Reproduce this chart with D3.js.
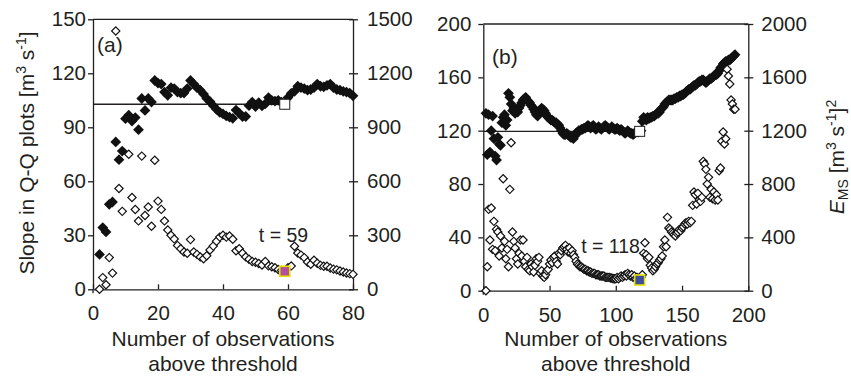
<!DOCTYPE html>
<html>
<head>
<meta charset="utf-8">
<script src="https://cdn.jsdelivr.net/npm/d3@7"></script>
<style>
  body { margin: 0; background: #fff; }
  svg text { font-family: "Liberation Sans", Arial, sans-serif; fill: #231f20; }
</style>
</head>
<body>
<svg id="chart" width="851" height="380"></svg>
<script>
// panel (a): observations start at 2
const aFirst = 2
const aSlope = [19.4, 34.3, 31.9, 47.2, 48.5, 81.9, 72, 76.8, 94.8, 96.7,
  93.5, 95.4, 88.7, 106, 99.4, 106, 104, 116, 114.6, 114,
  109.6, 107.8, 112, 111.5, 109.6, 109, 109, 111.5, 116, 114,
  112, 110.6, 108.5, 106, 104.3, 102, 100, 98.3, 97.4, 96.3,
  95.6, 95, 99.6, 97.8, 96, 96, 102, 104, 101.5, 103.7,
  101.9, 103, 106.5, 105, 104.6, 105, 104, 102.8, 106.5, 108.9,
  110, 112.8, 112, 111.5, 110.6, 111, 112, 114, 112.8, 112.5,
  113.3, 114, 112, 111, 110.6, 110, 109.6, 109, 107.5]
const aEms = [0, 65, 25, 176, 90, 1435, 560, 433, null, 750,
  510, 443, 380, 740, 410, 457, 350, 717, 490, 444,
  380, 330, 300, 280, 244, 225, 207, 200, 276, 207,
  194, 180, 170, 186, 218, 240, 267, 290, 300, 290,
  296, 278, 214, 225, 200, 180, 167, 154, 150, 143,
  135, 154, 130, 125, 120, 110, 105, 100, 120, 130,
  239, 202, 190, 176, 152, 139, 161, 145, 133, 128,
  128, 118, 112, 108, 102, 96, 91, 87, 83]

// panel (b): observations start at 2
const bFirst = 2
const bSlope = [133, 102, 132, 104, 120, 131, 114, 101, 98, 115,
  110, 109, 126, 130, 132, 124, 128, 148, 145, 140,
  135, 137, 133, 135, 134, 137, 139, 141, 143, 144,
  145, 143, 142, 141, 139, 138, 136, 134, 132, 131,
  133, 135, 137, 136, 135, 133, 131, 130, 129, 128,
  128, 127, 126, 126, 125, 124, 122, 120, 118, 117,
  117, 118, 117, 116, 115, 115, 114, 116, 118, 119,
  120, 120, 121, 121, 122, 122, 123, 124, 123, 122,
  123, 124, 122, 121, 122, 123, 122, 121, 122, 123,
  124, 123, 122, 121, 122, 123, 122, 121, 121, 122,
  121, 120, 121, 120, 119, 118, 119, 120, 119, 118,
  118, 117, 118, 119, 119, 119, 119.5, 120, 127, 130,
  129, 128, 130, 129, 130, 130, 131, 131, 132, 133,
  133, 134, 136, 137, 138, 140, 141, 142, 143, 143,
  143, 143, 144, 144, 145, 145, 146, 146, 147, 147,
  148, 149, 150, 151, 151, 152, 153, 154, 154, 155,
  156, 157, 157, 158, 158, 157, 156, 157, 158, 159,
  159, 160, 161, 162, 162, 163, 165, 167, 168, 170,
  171, 172, 172, 173, 173, 174, 175, 176, 177]
const bEms = [0, 180, 610, 380, 620, 310, 520, 300, 460, 440,
  260, 410, 320, 840, 370, 240, 310, 180, 760, 1110,
  440, 370, 320, 240, 200, 280, 380, 260, 380, 220,
  180, 250, 160, 150, 200, 180, 140, 190, 240, 220,
  250, 130, 150, 110, 100, 120, 150, 160, 200, 230,
  210, 250, 260, 220, 200, 280, 270, 300, 320, 330,
  340, 310, 290, 320, 280, 300, 270, 250, 220, 200,
  190, 180, 180, 170, 160, 160, 150, 150, 140, 140,
  130, 130, 130, 120, 120, 120, 110, 110, 110, 110,
  100, 100, 100, 100, 95, 95, 90, 90, 90, 100,
  90, 100, 110, 100, 110, 120, 110, 130, 120, 110,
  120, 100, 110, 90, 100, 90, 80, 100, 120, 280,
  360, 270, 240, 250, 190, 170, 150, 160, 180, 200,
  210, 230, 240, 260, 330, 380, 330, 550, 470, 460,
  440, 430, 420, 410, 430, 440, 460, 450, 470, 480,
  500, 510, 500, 520, 510, 520, 640, 740, 720, 650,
  730, 680, 670, 700, 970, 950, 910, 800, 850, 700,
  760, 690, 740, 680, 720, 680, 900, 920, 1120, 1190,
  1100, 1140, 1660, 1610, 1550, 1430, 1400, 1360, 1360]

// chosen threshold per panel
const optT = [59, 118]
const optSlope = [102.8, 119.5]
const optEms = [100, 80]
const optFill = ['#b24f9e', '#3c4f9f']

const xTicksA = [0, 20, 40, 60, 80]
const yTicksA = [0, 30, 60, 90, 120, 150]
const y2TicksA = [0, 300, 600, 900, 1200, 1500]
const xTicksB = [0, 50, 100, 150, 200]
const yTicksB = [0, 40, 80, 120, 160, 200]
const y2TicksB = [0, 400, 800, 1200, 1600, 2000]

const ink = '#231f20'
const svg = d3.select('#chart')
const fmt = d3.format('d')

function drawPanel(p) {
  const x = d3.scaleLinear().domain([0, p.xTicks[p.xTicks.length - 1]]).range([p.left, p.right])
  const y = d3.scaleLinear().domain([0, p.yTicks[p.yTicks.length - 1]]).range([p.bottom, p.top])
  const y2 = d3.scaleLinear().domain([0, p.y2Ticks[p.y2Ticks.length - 1]]).range([p.bottom, p.top])
  const g = svg.append('g')

  // axes
  const xAxis = g.append('g').attr('transform', `translate(0,${p.bottom})`)
    .call(d3.axisBottom(x).tickValues(p.xTicks).tickFormat(fmt).tickSize(-5).tickSizeOuter(0).tickPadding(16.5))
  const yAxis = g.append('g').attr('transform', `translate(${p.left},0)`)
    .call(d3.axisLeft(y).tickValues(p.yTicks).tickFormat(fmt).tickSize(5).tickSizeOuter(0).tickPadding(p.lPad))
  const y2Axis = g.append('g').attr('transform', `translate(${p.right},0)`)
    .call(d3.axisRight(y2).tickValues(p.y2Ticks).tickFormat(fmt).tickSize(5).tickSizeOuter(0).tickPadding(p.rPad))
  y2Axis.selectAll('.tick line').attr('x1', -4)
  yAxis.selectAll('.tick').filter(d => d === 0).select('line').attr('y2', 0)
  g.append('line').attr('x1', p.left).attr('x2', p.right).attr('y1', p.top).attr('y2', p.top)
    .attr('stroke', ink).attr('stroke-width', 1.3)
  g.append('line').attr('x1', p.left).attr('x2', p.left).attr('y1', p.bottom).attr('y2', p.bottom + 4)
    .attr('stroke', ink).attr('stroke-width', 1.3)
  ;[xAxis, yAxis, y2Axis].forEach(a => {
    a.selectAll('path, line').attr('stroke', ink).attr('stroke-width', 1.3)
    a.selectAll('text').attr('font-size', 20.5).attr('fill', ink)
      .style('font-family', '"Liberation Sans", Arial, sans-serif')
  })

  // reference line up to the chosen threshold
  g.append('line')
    .attr('x1', x(0)).attr('x2', x(p.optT)).attr('y1', y(p.optSlope)).attr('y2', y(p.optSlope))
    .attr('stroke', ink).attr('stroke-width', 1.4)

  const filled = d3.symbol(d3.symbolSquare, 58)
  const open = d3.symbol(d3.symbolSquare, 34)

  g.append('g').selectAll('path')
    .data(p.slope.map((v, i) => ({ n: p.first + i, v })))
    .enter().append('path')
    .attr('d', filled)
    .attr('transform', d => `translate(${x(d.n)},${y(d.v)}) rotate(45)`)
    .attr('fill', '#111')

  g.append('g').selectAll('path')
    .data(p.ems.map((v, i) => ({ n: p.first + i, v })).filter(d => d.v != null))
    .enter().append('path')
    .attr('d', open)
    .attr('transform', d => `translate(${x(d.n)},${y2(d.v)}) rotate(45)`)
    .attr('fill', '#fff').attr('stroke', '#111').attr('stroke-width', 1.2)

  // highlighted threshold markers
  g.append('rect')
    .attr('x', x(p.optT) - 5).attr('y', y(p.optSlope) - 5).attr('width', 10).attr('height', 10)
    .attr('fill', '#fff').attr('stroke', ink).attr('stroke-width', 1)
  g.append('rect')
    .attr('x', x(p.optT) - 5).attr('y', y2(p.optEms) - 5).attr('width', 10).attr('height', 10)
    .attr('fill', p.optFill).attr('stroke', '#e6e000').attr('stroke-width', 1.6)

  g.append('text').attr('x', p.tX).attr('y', p.tY).attr('text-anchor', 'middle')
    .attr('font-size', 19.5).text(p.tText)
  g.append('text').attr('x', p.labelX).attr('y', p.labelY).attr('font-size', 21).text(p.label)

  const cx = (p.left + p.right) / 2
  g.append('text').attr('x', cx).attr('y', 346).attr('text-anchor', 'middle')
    .attr('font-size', 21).text('Number of observations')
  g.append('text').attr('x', cx).attr('y', 371).attr('text-anchor', 'middle')
    .attr('font-size', 21).text('above threshold')
}

drawPanel({
  left: 93, right: 353, top: 19.3, bottom: 289.3,
  xTicks: xTicksA, yTicks: yTicksA, y2Ticks: y2TicksA,
  first: aFirst, slope: aSlope, ems: aEms,
  optT: optT[0], optSlope: optSlope[0], optEms: optEms[0], optFill: optFill[0],
  lPad: 2, rPad: 9,
  label: '(a)', labelX: 97, labelY: 52, tX: 283.5, tY: 242, tText: 't = 59'
})
drawPanel({
  left: 483.3, right: 748.3, top: 24, bottom: 290.7,
  xTicks: xTicksB, yTicks: yTicksB, y2Ticks: y2TicksB,
  first: bFirst, slope: bSlope, ems: bEms,
  optT: optT[1], optSlope: optSlope[1], optEms: optEms[1], optFill: optFill[1],
  lPad: 7, rPad: 8,
  label: '(b)', labelX: 492, labelY: 64, tX: 610.5, tY: 253, tText: 't = 118'
})

// left axis title
const lt = svg.append('text').attr('transform', 'translate(34,153) rotate(-90)')
  .attr('text-anchor', 'middle').attr('font-size', 21)
lt.append('tspan').text('Slope in Q-Q plots [m')
lt.append('tspan').attr('font-size', 14).attr('dy', -8).text('3')
lt.append('tspan').attr('dy', 8).text(' s')
lt.append('tspan').attr('font-size', 14).attr('dy', -8).text('-1')
lt.append('tspan').attr('dy', 8).text(']')

// right axis title
const rt = svg.append('text').attr('transform', 'translate(844,157) rotate(-90)')
  .attr('text-anchor', 'middle').attr('font-size', 21)
rt.append('tspan').attr('font-style', 'italic').text('E')
rt.append('tspan').attr('font-size', 14).attr('dy', 4).text('MS')
rt.append('tspan').attr('dy', -4).text(' [m')
rt.append('tspan').attr('font-size', 14).attr('dy', -8).text('3')
rt.append('tspan').attr('dy', 8).text(' s')
rt.append('tspan').attr('font-size', 14).attr('dy', -8).text('-1')
rt.append('tspan').attr('dy', 8).text(']')
rt.append('tspan').attr('font-size', 14).attr('dy', -8).text('2')
</script>
</body>
</html>
